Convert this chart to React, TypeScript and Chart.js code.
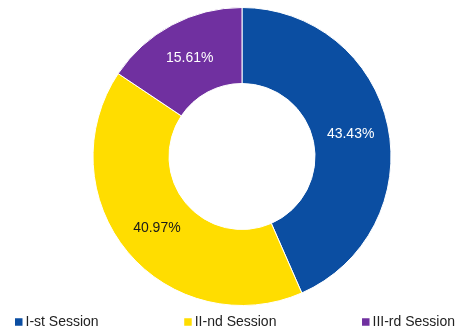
import React, { useEffect, useRef } from "react";
import { Chart, registerables } from "chart.js";

Chart.register(...registerables);

const categories = ["I-st Session", "II-nd Session", "III-rd Session"];
const values = [43.43, 40.97, 15.61];
const valueLabels = ["43.43%", "40.97%", "15.61%"];
const colors = ["#0B4EA2", "#FFDD00", "#7030A0"];
const labelColors = ["#FFFFFF", "#1A1A1A", "#FFFFFF"];

const FONT = "Arial, 'Liberation Sans', Helvetica, sans-serif";

const sliceLabelPlugin = {
  id: "sliceLabels",
  afterDatasetsDraw(chart: any) {
    const ctx = chart.ctx;
    const meta = chart.getDatasetMeta(0);
    ctx.save();
    ctx.font = `14px ${FONT}`;
    ctx.textAlign = "center";
    ctx.textBaseline = "middle";
    meta.data.forEach((arc: any, i: number) => {
      const p = arc.getProps(["startAngle", "endAngle", "innerRadius", "outerRadius", "x", "y"], true);
      const mid = (p.startAngle + p.endAngle) / 2;
      const r = (p.innerRadius + p.outerRadius) / 2;
      ctx.fillStyle = labelColors[i];
      ctx.fillText(valueLabels[i], p.x + Math.cos(mid) * r, p.y + Math.sin(mid) * r);
    });
    ctx.restore();
  },
};

const legendPlugin = {
  id: "spreadLegend",
  afterDraw(chart: any) {
    const ctx = chart.ctx;
    const w = chart.width;
    const h = chart.height;
    const leftMargin = 15;
    const rightMargin = 4;
    const box = 7.5;
    const gap = 3;
    ctx.save();
    ctx.font = `14px ${FONT}`;
    ctx.textBaseline = "middle";
    ctx.textAlign = "left";
    const widths = categories.map((c) => box + gap + ctx.measureText(c).width);
    const total = widths.reduce((a, b) => a + b, 0);
    const space = (w - leftMargin - rightMargin - total) / (categories.length - 1);
    let x = leftMargin;
    const cy = h - 7;
    categories.forEach((c, i) => {
      ctx.fillStyle = colors[i];
      ctx.fillRect(x, cy - box / 2, box, box);
      ctx.fillStyle = "#222222";
      ctx.fillText(c, x + box + gap, cy + 0.5);
      x += widths[i] + space;
    });
    ctx.restore();
  },
};

export default function App() {
  const ref = useRef<HTMLCanvasElement | null>(null);
  useEffect(() => {
    document.body.style.margin = "0";
    const chart = new Chart(ref.current as HTMLCanvasElement, {
      type: "doughnut",
      data: {
        labels: categories,
        datasets: [
          {
            data: values,
            backgroundColor: colors,
            borderColor: "#FFFFFF",
            borderWidth: 1,
            hoverOffset: 0,
          },
        ],
      },
      options: {
        animation: false,
        responsive: false,
        cutout: "49%",
        layout: { padding: { left: 25, right: 0, top: 7, bottom: 23 } },
        plugins: {
          legend: { display: false },
          tooltip: { enabled: false },
        },
      },
      plugins: [sliceLabelPlugin, legendPlugin],
    });
    return () => chart.destroy();
  }, []);
  return (
    <div style={{ position: "fixed", left: 0, top: 0, width: 459, height: 329, background: "#fff" }}>
      <canvas ref={ref} width={459} height={329} style={{ width: 459, height: 329, display: "block" }} />
    </div>
  );
}
